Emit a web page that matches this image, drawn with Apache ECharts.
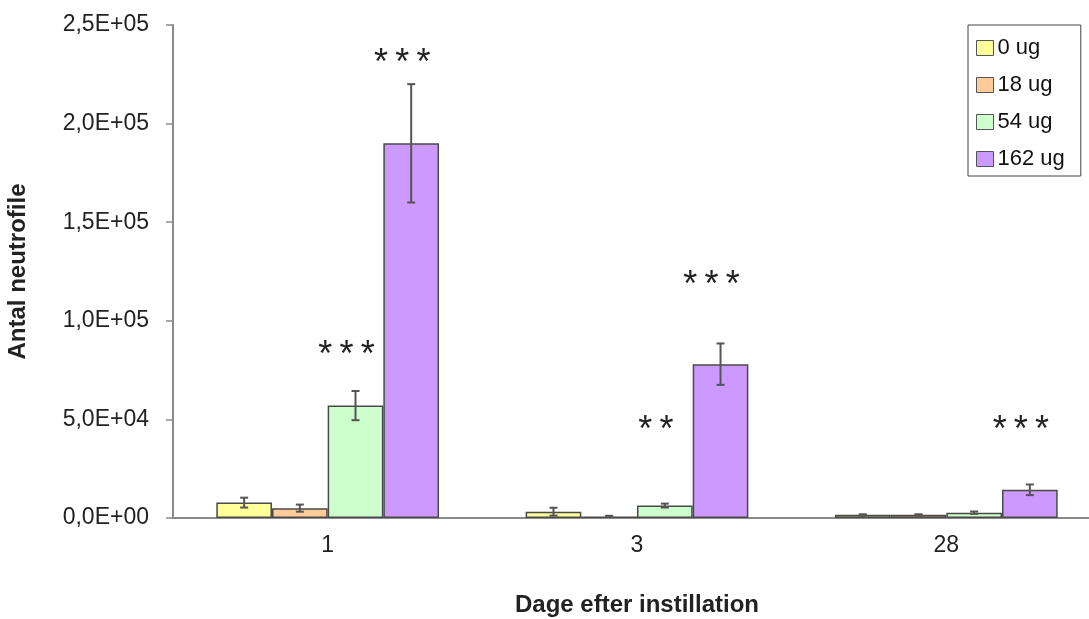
<!DOCTYPE html>
<html lang="da">
<head>
    <meta charset="UTF-8">
    <title>Antal neutrofile</title>
    <script type="text/javascript" src="https://cdn.jsdelivr.net/npm/echarts@6/dist/echarts.min.js"></script>
    <style>
        html, body { margin: 0; padding: 0; background: #fff; }
    </style>
</head>
<body>
<div id="chart" style="width: 1089px;height:619px;"></div>
<script>
    // data
    var days = ['1', '3', '28'];
    var doses = ['0 ug', '18 ug', '54 ug', '162 ug'];
    var colors = ['#FFFF99', '#FFCC99', '#CCFFCC', '#CC99FF'];
    var dose0 = [7800, 3200, 1600];
    var dose18 = [5000, 800, 1600];
    var dose54 = [57000, 6300, 2700];
    var dose162 = [190000, 78000, 14300];
    var err0 = [2500, 2000, 300];
    var err18 = [1800, 300, 300];
    var err54 = [7400, 1000, 600];
    var err162 = [30000, 10500, 2700];
    // significance marks: [day index, dose index, height, text]
    var stars = [
        [0, 2, 82000, '*\u2009*\u2009*'],
        [0, 3, 230000, '*\u2009*\u2009*'],
        [1, 2, 44000, '*\u2009*'],
        [1, 3, 117500, '*\u2009*\u2009*'],
        [2, 3, 44000, '*\u2009*\u2009*']
    ];

    var values = [dose0, dose18, dose54, dose162];
    var errors = [err0, err18, err54, err162];
    var GAP = 0.28;
    var FONT = 'Liberation Sans, Arial, sans-serif';

    function sci(v) {
        if (v === 0) return '0,0E+00';
        var e = Math.floor(Math.log10(v) + 1e-9);
        var m = v / Math.pow(10, e);
        return m.toFixed(1).replace('.', ',') + 'E+' + (e < 10 ? '0' : '') + e;
    }

    var errData = [];
    for (var s = 0; s < 4; s++) {
        for (var i = 0; i < days.length; i++) {
            errData.push([i, values[s][i] - errors[s][i], values[s][i] + errors[s][i], s]);
        }
    }

    function barX(api, cat, s) {
        var band = api.size([1, 0])[0];
        var bw = band * (1 - GAP) / 4;
        return api.coord([cat, 0])[0] + (s - 1.5) * bw;
    }

    var series = [];
    doses.forEach(function (name, s) {
        series.push({
            name: name,
            type: 'bar',
            data: values[s],
            barGap: '0%',
            barCategoryGap: (GAP * 100) + '%',
            itemStyle: {color: colors[s], borderColor: '#4a4a4a', borderWidth: 1.5},
            emphasis: {disabled: true}
        });
    });

    series.push({
        type: 'custom',
        silent: true,
        z: 5,
        data: errData,
        encode: {x: 0, y: [1, 2]},
        renderItem: function (params, api) {
            var cat = api.value(0);
            var x = barX(api, cat, api.value(3));
            var yLo = api.coord([cat, api.value(1)])[1];
            var yHi = api.coord([cat, api.value(2)])[1];
            var st = {stroke: '#555', lineWidth: 2};
            return {
                type: 'group',
                children: [
                    {type: 'line', shape: {x1: x, y1: yLo, x2: x, y2: yHi}, style: st},
                    {type: 'line', shape: {x1: x - 4, y1: yLo, x2: x + 4, y2: yLo}, style: st},
                    {type: 'line', shape: {x1: x - 4, y1: yHi, x2: x + 4, y2: yHi}, style: st}
                ]
            };
        }
    });

    series.push({
        type: 'custom',
        silent: true,
        z: 6,
        data: stars.map(function (r) { return [r[0], r[2], r[1]]; }),
        encode: {x: 0, y: 1},
        renderItem: function (params, api) {
            var cat = api.value(0);
            var x = barX(api, cat, api.value(2)) - 9;
            var y = api.coord([cat, api.value(1)])[1];
            return {
                type: 'text',
                style: {
                    x: x, y: y,
                    text: stars[params.dataIndex][3],
                    fill: '#222',
                    font: '36px ' + FONT,
                    align: 'center',
                    verticalAlign: 'middle'
                }
            };
        }
    });

    var option = {
        animation: false,
        backgroundColor: '#fff',
        textStyle: {fontFamily: FONT},
        grid: {left: 173, top: 25, right: -12, bottom: 101, containLabel: false, outerBoundsMode: 'none'},
        legend: {
            data: doses,
            orient: 'vertical',
            left: 968,
            top: 25,
            width: 116,
            padding: [12, 16, 6, 8],
            icon: 'rect',
            itemWidth: 17,
            itemHeight: 15,
            itemGap: 15,
            borderColor: '#444',
            borderWidth: 1,
            itemStyle: {borderColor: '#555', borderWidth: 1},
            textStyle: {fontSize: 22, color: '#111', padding: [0, 0, 0, -1]}
        },
        xAxis: {
            type: 'category',
            data: days,
            name: 'Dage efter instillation',
            nameLocation: 'middle',
            nameGap: 75,
            nameTextStyle: {fontSize: 24, fontWeight: 'bold', color: '#222'},
            axisLine: {lineStyle: {color: '#8a8a8a', width: 2}},
            axisTick: {length: 7, lineStyle: {color: '#8a8a8a', width: 1.5}},
            axisLabel: {fontSize: 23, color: '#222', margin: 16}
        },
        yAxis: {
            type: 'value',
            min: 0,
            max: 250000,
            interval: 50000,
            name: 'Antal neutrofile',
            nameLocation: 'middle',
            nameGap: 143,
            nameTextStyle: {fontSize: 24, fontWeight: 'bold', color: '#222'},
            splitLine: {show: false},
            axisLine: {show: true, lineStyle: {color: '#8a8a8a', width: 2}},
            axisTick: {show: true, length: 7, lineStyle: {color: '#8a8a8a', width: 1.5}},
            axisLabel: {fontSize: 23, color: '#222', margin: 24, formatter: sci}
        },
        series: series
    };

    var myChart = echarts.init(document.getElementById('chart'));
    myChart.setOption(option);
</script>
</body>
</html>
